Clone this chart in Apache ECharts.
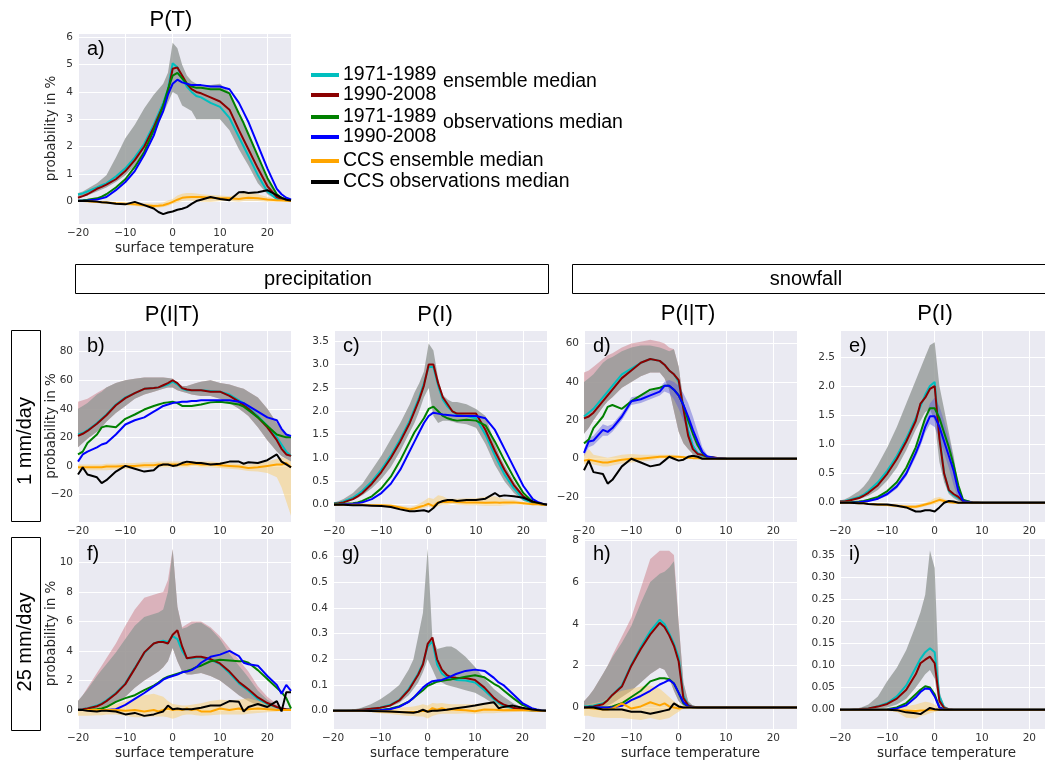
<!DOCTYPE html>
<html><head><meta charset="utf-8">
<script src="https://cdn.jsdelivr.net/npm/echarts@6/dist/echarts.min.js"></script>
<style>html,body{margin:0;padding:0;background:#fff}#c{width:1045px;height:763px}</style>
</head><body><div id="c"></div>
<script>
// shared temperature grid (surface temperature, °C)
const T = [-20,-19,-18,-16,-15,-14,-12,-10,-8,-6,-4,-3,-2,-1,0,1,2,3,4,5,6,8,10,12,14,15,16,18,20,22,23,24,25];
const X_TICK_STEP = 10;

// a) P(T)
const aCyan = [0.24,0.28,0.35,0.5,0.58,0.65,0.9,1.2,1.6,2.1,2.8,3.2,3.6,4.1,5.05,4.9,4.5,4.2,4.0,3.85,3.8,3.6,3.45,3.05,2.35,2.0,1.65,0.95,0.35,0.08,0.05,0.03,0.01];
const aRed = [0.12,0.18,0.25,0.45,0.52,0.6,0.8,1.1,1.5,2.0,2.7,3.1,3.5,4.0,4.85,4.9,4.6,4.3,4.1,4.0,3.95,3.8,3.65,3.35,2.6,2.25,1.9,1.2,0.55,0.15,0.08,0.04,0.02];
const aGreen = [0.02,0.03,0.05,0.1,0.16,0.25,0.5,0.8,1.25,1.8,2.6,3.0,3.5,4.1,4.6,4.7,4.5,4.3,4.2,4.15,4.15,4.1,4.1,3.95,3.2,2.85,2.45,1.65,0.85,0.25,0.12,0.06,0.03];
const aBlue = [0.01,0.01,0.02,0.06,0.1,0.15,0.4,0.7,1.1,1.7,2.4,2.9,3.3,3.9,4.3,4.45,4.35,4.3,4.25,4.25,4.25,4.2,4.2,4.1,3.6,3.25,2.9,2.05,1.2,0.45,0.25,0.12,0.06];
const aOrange = [0,0,-0.01,-0.03,-0.04,-0.05,-0.08,-0.1,-0.12,-0.15,-0.18,-0.17,-0.15,-0.1,-0.03,0.05,0.12,0.14,0.15,0.15,0.15,0.12,0.1,0.1,0.08,0.1,0.12,0.1,0.06,0.03,0.02,0.01,0];
const aBlack = [0,0,0,-0.02,-0.04,-0.05,-0.1,-0.12,-0.03,-0.15,-0.27,-0.4,-0.48,-0.42,-0.38,-0.32,-0.28,-0.22,-0.1,0.0,0.05,0.15,0.08,0.03,0.32,0.33,0.3,0.32,0.4,0.22,0.12,0.05,0.02];
const aLo = [0.1,0.15,0.2,0.35,0.42,0.5,0.7,0.95,1.3,1.8,2.4,2.8,3.2,3.6,4.0,3.9,3.5,3.4,3.3,3.0,3.0,3.0,3.0,2.6,1.9,1.6,1.3,0.65,0.25,0.05,0.02,0.01,0];
const aHi = [0.3,0.35,0.45,0.65,0.8,0.95,1.6,2.3,2.8,3.4,3.9,4.1,4.3,4.7,5.8,5.6,5.0,4.6,4.4,4.3,4.25,4.25,4.3,4.0,3.1,2.8,2.4,1.6,0.8,0.25,0.15,0.08,0.05];
const aCcsLo = [0,-0.01,-0.02,-0.05,-0.07,-0.08,-0.12,-0.15,-0.18,-0.22,-0.25,-0.24,-0.22,-0.18,-0.1,-0.05,0,0.02,0.02,0,-0.02,-0.03,0,0,-0.02,0,0,0,-0.02,-0.02,-0.01,0,0];
const aCcsHi = [0,0.01,0,0,-0.01,-0.02,-0.03,-0.05,-0.06,-0.08,-0.1,-0.08,-0.05,0.02,0.08,0.2,0.27,0.3,0.3,0.28,0.25,0.22,0.2,0.18,0.25,0.3,0.32,0.25,0.15,0.08,0.05,0.02,0];

// b) precipitation P(I|T), 1 mm/day
const bCyan = [22,23,25,30,33,36,43,48,51,54,54.5,55,56,57,59,57,54,53,53,53,53,52.5,52,50,46,44,41,35,28,20,15,10,7];
const bRed = [21,22.5,24.5,29.5,32.5,35.5,42.5,47.5,51,54,54.5,55,56.5,58,60,58,54.5,53.5,53,53,53,52,52,49,45,42.5,40,34,27,18,12,8,7];
const bGreen = [8,10,16,22,27,28,27,33,36,39.5,42,43,44,44.5,45,44,42,42,42,42.5,43,44.5,45,44,43,41.5,39,34,28,22,21,20,20];
const bBlue = [3,8,10,13,15,16,22,29,32,34,38,40,42,43,44,44.5,45,45,45.5,45.5,46,46,46,46,45,44,42,38,34,32,26,22,21];
const bOrange = [-1,-1,-1,-1,-1,-0.5,-0.5,0,0,0.5,0.5,1,1,1,1,1,1,1,1.5,1.5,1,1,0.5,0,-0.5,-1,-1.5,-1,0,1,1,2,-1];
const bBlack = [-6,-1,-6,-8,-12,-10,-4,0,-2,-4,-3,0,1,1,0,0.5,2,3,2.5,2,2,1,1.5,3,3,1.5,2.5,2,4,8,3,1,-1];
const bLo = [13,16,19,24,27,31,37,42,47,50,52,53,54,55,55,53,52,51,50,49.5,49,49,47,44,40,37.5,35,27,18,10,7,5,3];
const bHi = [40,42,44,50,52,55,58,60,61,62,62,62,62,61.5,61,58,56,56,57,58,59,60,58,57,55,54,52,48,40,30,26,22,20];
const bPinkHi = [45,46,47,51,53,55,58,60,61,62,62,62,62,61.5,61,58,56,56,57,58,59,60,58,57,55,54,52,48,40,30,26,22,20];
const bCcsLo = [-3,-3,-3,-3,-3,-3,-2.5,-2,-2,-1.5,-1.5,-1,-1,-1,-1,-1,-1,-1,-0.5,-0.5,-1,-1,-1.5,-2,-2.5,-3,-3.5,-4,-5,-8,-15,-25,-35];
const bCcsHi = [1,1,1,1,1,1.5,1.5,2,2,2.5,2.5,3,3,3,3,3,3,3,3.5,3.5,3,3,2.5,2,1.5,1,1,1.5,3,5,6,5,3];

// c) precipitation P(I), 1 mm/day
const cCyan = [0.03,0.04,0.07,0.15,0.22,0.3,0.5,0.75,1.05,1.4,1.8,2.05,2.3,2.6,2.95,2.95,2.55,2.25,2.1,2.0,1.92,1.9,1.85,1.5,1.05,0.85,0.65,0.35,0.12,0.04,0.02,0.01,0];
const cRed = [0.02,0.03,0.05,0.12,0.18,0.25,0.45,0.7,1.0,1.35,1.75,2.0,2.25,2.55,3.0,3.0,2.6,2.3,2.15,2.0,1.95,1.95,1.95,1.6,1.15,0.95,0.75,0.42,0.18,0.05,0.02,0.01,0];
const cGreen = [0.01,0.01,0.02,0.03,0.05,0.08,0.18,0.35,0.6,0.95,1.35,1.55,1.7,1.85,2.05,2.1,2.0,1.9,1.85,1.82,1.8,1.82,1.8,1.7,1.35,1.15,0.95,0.58,0.25,0.06,0.03,0.01,0];
const cBlue = [0,0,0.01,0.02,0.03,0.05,0.12,0.25,0.45,0.75,1.15,1.35,1.55,1.75,1.9,1.97,1.95,1.93,1.92,1.91,1.9,1.9,1.9,1.85,1.6,1.4,1.2,0.8,0.4,0.12,0.06,0.02,0];
const cOrange = [0,0,0,0,0,0,-0.01,-0.01,-0.02,-0.06,-0.1,-0.08,-0.05,-0.02,0.02,-0.03,0.05,0.06,0.06,0.07,0.06,0.05,0.05,0.04,0.05,0.04,0.05,0.05,0.03,0.01,0.01,0,0];
const cBlack = [0,0,0,-0.01,-0.01,-0.01,-0.02,-0.03,-0.05,-0.1,-0.14,-0.14,-0.13,-0.12,-0.15,-0.07,0.04,0.08,0.1,0.1,0.08,0.1,0.1,0.13,0.25,0.18,0.2,0.18,0.15,0.07,0.04,0.02,0];
const cLo = [0.02,0.03,0.05,0.1,0.15,0.2,0.35,0.55,0.8,1.15,1.55,1.75,2.0,2.3,2.5,1.9,1.75,1.8,1.8,1.78,1.75,1.72,1.65,1.3,0.85,0.68,0.5,0.25,0.08,0.02,0.01,0,0];
const cHi = [0.05,0.08,0.12,0.25,0.35,0.45,0.75,1.05,1.4,1.75,2.15,2.4,2.6,2.85,3.45,3.3,2.7,2.35,2.25,2.2,2.2,2.15,2.05,1.9,1.3,1.05,0.85,0.5,0.2,0.06,0.03,0.01,0];
const cCcsLo = [0,0,0,-0.01,-0.01,-0.01,-0.02,-0.03,-0.05,-0.1,-0.14,-0.12,-0.1,-0.07,-0.04,-0.08,-0.03,0,0,0.02,0,-0.01,-0.01,-0.02,-0.02,-0.02,-0.01,0,0,-0.01,0,0,0];
const cCcsHi = [0,0,0.01,0.01,0.01,0.01,0,0.01,0.01,-0.02,-0.05,-0.02,0.02,0.08,0.15,0.12,0.2,0.18,0.13,0.13,0.13,0.14,0.14,0.17,0.18,0.15,0.12,0.1,0.06,0.03,0.02,0.01,0];

// d) snowfall P(I|T), 1 mm/day
const dCyan = [22,24,26,32,35,38,44,47,50,52,51,49,46,44,40,27,15,7,3,1.5,0.8,0.3,0.1,0,0,0,0,0,0,0,0,0,0];
const dRed = [21,22,24,30,33,36,42,46,50,52,51,49,46,44,41,26,12,5,2.5,2,1,0.5,0.1,0,0,0,0,0,0,0,0,0,0];
const dGreen = [8,10,16,22,27,28,26,30,33,36,37,38,38,36,33,28,20,13,7,3,1,0.3,0,0,0,0,0,0,0,0,0,0,0];
const dBlue = [3,9,9.5,15,14,16,22,30,31,33,35,38,38,36,33,28,22,15,9,3.5,1.2,0.2,0,0,0,0,0,0,0,0,0,0,0];
const dOrange = [-1,-0.5,-1,-2,-2,-1.5,-0.5,0,0,0.5,1,1,1.2,1,1,0.8,0.5,0.3,0.2,0.1,0,0,0,0,0,0,0,0,0,0,0,0,0];
const dBlack = [-6,-1,-7,-8,-13,-11,-4,0,-2,-4,-3,-1,1,0,-1,-0.5,1,1.5,1,0,0,0,0,0,0,0,0,0,0,0,0,0,0];
const dLo = [13,16,20,27,30,32,37,40,43,45,45,42,36,25,14,8,5,2.5,1,0.5,0.2,0,0,0,0,0,0,0,0,0,0,0,0];
const dHi = [40,42,44,50,52,53,56,58,59,59,58,57,56,57,48,30,15,7,3.5,2,1,0.5,0.2,0,0,0,0,0,0,0,0,0,0];
const dPinkHi = [45,46,48,52,54,55,58,60,61,62,61,60,58,57,48,30,15,7,3.5,2,1,0.5,0.2,0,0,0,0,0,0,0,0,0,0];
const dBlueLo = [1,6,7,12,12,14,20,28,29,31,33,35,34,31,26,20,14,8,4,1,0.3,0,0,0,0,0,0,0,0,0,0,0,0];
const dBlueHi = [5,11,12,18,17,18,24,32,33,35,37,40,41,40,38,34,29,22,14,6,2,0.5,0,0,0,0,0,0,0,0,0,0,0];
const dCcsLo = [-3,-2,-3,-4,-4,-3.5,-2.5,-2,-1.5,-1,0,0,0,0,0,0,0,0,0,0,0,0,0,0,0,0,0,0,0,0,0,0,0];
const dCcsHi = [2,5,2,1,0.5,1,2,2.5,2,2,2,2,2,2,1.5,1.5,1,0.5,0.3,0.2,0,0,0,0,0,0,0,0,0,0,0,0,0];

// e) snowfall P(I), 1 mm/day
const eCyan = [0.02,0.03,0.05,0.1,0.14,0.2,0.35,0.55,0.8,1.1,1.45,1.65,1.85,2.0,2.07,1.15,0.5,0.2,0.13,0.08,0.03,0.01,0,0,0,0,0,0,0,0,0,0,0];
const eRed = [0.02,0.02,0.04,0.08,0.12,0.17,0.3,0.5,0.75,1.05,1.4,1.7,1.8,1.95,2.0,1.1,0.5,0.22,0.15,0.1,0.03,0.01,0,0,0,0,0,0,0,0,0,0,0];
const eGreen = [0,0,0.01,0.02,0.03,0.05,0.1,0.2,0.35,0.6,0.95,1.2,1.45,1.62,1.62,1.45,1.2,0.95,0.65,0.3,0.05,0,0,0,0,0,0,0,0,0,0,0,0];
const eBlue = [0,0,0,0.01,0.02,0.03,0.07,0.15,0.28,0.5,0.85,1.05,1.3,1.48,1.48,1.3,1.05,0.8,0.55,0.2,0.03,0,0,0,0,0,0,0,0,0,0,0,0];
const eOrange = [0,0,0,-0.01,-0.01,-0.02,-0.03,-0.04,-0.05,-0.07,-0.07,-0.05,-0.03,-0.01,0.02,0.05,0.03,0.01,0,0,0,0,0,0,0,0,0,0,0,0,0,0,0];
const eBlack = [0,0,0,-0.01,-0.01,-0.02,-0.03,-0.03,-0.05,-0.08,-0.15,-0.15,-0.13,-0.13,-0.15,-0.08,0,0.03,0.02,0,0,0,0,0,0,0,0,0,0,0,0,0,0];
const eLo = [0.01,0.01,0.03,0.06,0.09,0.12,0.22,0.38,0.6,0.9,1.25,1.4,1.55,1.6,1.4,0.7,0.35,0.15,0.08,0.03,0.01,0,0,0,0,0,0,0,0,0,0,0,0];
const eHi = [0.04,0.06,0.1,0.2,0.28,0.38,0.65,0.95,1.3,1.7,2.1,2.3,2.5,2.7,2.75,2.0,1.6,1.2,0.8,0.3,0.05,0.01,0,0,0,0,0,0,0,0,0,0,0];
const eBlueLo = [0,0,0,0,0.01,0.02,0.05,0.12,0.24,0.45,0.78,0.97,1.2,1.35,1.3,1.1,0.85,0.6,0.3,0.05,0,0,0,0,0,0,0,0,0,0,0,0,0];
const eBlueHi = [0,0,0,0.02,0.03,0.04,0.09,0.18,0.32,0.56,0.93,1.15,1.45,1.7,1.8,1.65,1.4,1.1,0.75,0.3,0.05,0,0,0,0,0,0,0,0,0,0,0,0];
const eCcsLo = [0,0,0,-0.02,-0.02,-0.03,-0.05,-0.06,-0.08,-0.1,-0.1,-0.08,-0.06,-0.04,-0.02,0,0,0,0,0,0,0,0,0,0,0,0,0,0,0,0,0,0];
const eCcsHi = [0,0,0,0,0,-0.01,-0.01,-0.02,-0.03,-0.04,-0.04,-0.02,0,0.03,0.08,0.1,0.07,0.03,0.01,0,0,0,0,0,0,0,0,0,0,0,0,0,0];

// f) precipitation P(I|T), 25 mm/day
const fCyan = [0.05,0.07,0.12,0.3,0.45,0.65,1.15,1.8,2.85,3.85,4.5,4.6,4.7,4.6,5.0,4.8,4.0,3.5,3.5,3.55,3.55,3.4,3.1,2.5,1.8,1.55,1.3,0.75,0.4,0.18,0.08,0.04,0.02];
const fRed = [0.03,0.05,0.1,0.25,0.4,0.6,1.1,1.75,2.8,3.9,4.5,4.6,4.6,4.5,5.1,5.4,4.3,3.5,3.55,3.6,3.6,3.45,3.15,2.6,1.9,1.65,1.4,0.85,0.47,0.2,0.1,0.05,0.02];
const fGreen = [0,0,0,0.05,0.1,0.2,0.55,0.8,1.0,1.35,1.65,1.85,2.1,2.25,2.35,2.45,2.55,2.65,2.75,2.9,3.0,3.3,3.4,3.35,3.3,3.3,3.2,2.7,2.1,1.5,1.2,0.8,0.1];
const fBlue = [0,0,0,0,0,0,0.05,0.35,0.75,1.15,1.6,1.8,2.05,2.2,2.3,2.4,2.55,2.6,2.7,2.9,3.2,3.6,3.75,4.0,3.65,3.2,3.1,3.0,2.3,1.7,1.1,1.7,1.3];
const fOrange = [0,0,0,0,0,0,0,-0.05,0,-0.1,0,-0.1,0,0.1,0,0.05,0,0.1,0,0.05,-0.1,-0.1,0.1,0,0.1,0,0.05,0.1,0.05,0,0,0,0];
const fBlack = [0,0,-0.05,-0.1,-0.05,-0.05,-0.1,-0.3,-0.2,-0.4,-0.3,-0.2,-0.1,0.3,0.05,0.1,0.05,0.05,0.05,0.1,0.15,0.3,0.3,0.6,0.55,-0.1,0.2,0.4,0.2,0.6,-0.1,1.2,1.2];
const fLo = [0,0,0.02,0.05,0.1,0.2,0.5,0.9,1.5,2.0,2.4,2.6,2.9,3.3,4.2,3.3,2.6,2.4,2.4,2.45,2.5,2.3,2.0,1.5,1.0,0.8,0.6,0.3,0.1,0.03,0.01,0,0];
const fHi = [0.6,1.0,1.4,2.3,2.7,3.1,3.9,4.8,5.7,6.3,6.5,6.6,6.8,8.0,10.9,7.0,5.5,5.6,5.8,5.9,5.9,5.5,4.8,3.8,3.0,2.6,2.2,1.3,0.7,0.3,0.2,0.1,0.05];
const fPinkHi = [0.6,1.0,1.5,2.5,3.0,3.5,4.5,5.7,6.8,7.6,7.8,7.9,8.0,8.8,10.9,7.0,5.6,5.8,6.0,6.0,6.0,5.6,5.0,4.2,3.4,3.0,2.6,1.6,0.9,0.4,0.2,0.1,0.05];
const fCcsLo = [-0.4,-0.4,-0.4,-0.35,-0.35,-0.3,-0.3,-0.4,-0.5,-0.5,-0.45,-0.45,-0.45,-0.5,-0.6,-0.5,-0.35,-0.3,-0.3,-0.35,-0.4,-0.35,-0.3,-0.3,-0.3,-0.3,-0.25,-0.2,-0.15,-0.1,-0.05,-0.05,0];
const fCcsHi = [0.05,0.1,0.1,0.15,0.2,0.25,0.4,0.6,0.8,1.0,1.1,1.0,0.9,0.6,0.4,0.35,0.3,0.3,0.35,0.4,0.45,0.6,0.7,0.65,0.7,0.75,0.8,0.6,0.4,0.2,0.15,0.1,0.05];

// g) precipitation P(I), 25 mm/day
const gCyan = [0,0,0,0.001,0.002,0.004,0.008,0.013,0.022,0.042,0.085,0.115,0.145,0.185,0.25,0.27,0.18,0.145,0.13,0.125,0.12,0.118,0.11,0.08,0.045,0.03,0.02,0.01,0.004,0.001,0,0,0];
const gRed = [0,0,0,0.001,0.002,0.004,0.008,0.012,0.02,0.04,0.08,0.11,0.14,0.18,0.26,0.285,0.2,0.16,0.14,0.13,0.128,0.127,0.12,0.09,0.05,0.035,0.025,0.012,0.005,0.002,0.001,0,0];
const gGreen = [0,0,0,0,0,0,0.001,0.003,0.008,0.018,0.035,0.05,0.065,0.08,0.097,0.105,0.113,0.117,0.12,0.122,0.125,0.132,0.138,0.13,0.105,0.095,0.08,0.05,0.023,0.008,0.004,0.002,0];
const gBlue = [0,0,0,0,0,0,0,0.002,0.006,0.015,0.035,0.05,0.07,0.09,0.105,0.115,0.118,0.12,0.127,0.135,0.143,0.155,0.16,0.155,0.128,0.11,0.1,0.065,0.03,0.01,0.005,0.002,0];
const gOrange = [0,0,0,0,0,0,-0.001,-0.002,-0.003,-0.005,-0.006,-0.005,-0.004,0,-0.003,0.01,0.004,0.01,0.004,0.006,0.004,0.002,-0.002,0.005,0.004,0.003,0.002,0.003,0.002,0.001,0,0,0];
const gBlack = [0,0,0,0,0,0,-0.001,-0.002,-0.003,-0.005,-0.007,-0.008,-0.004,0.004,-0.004,0,0,0.002,0.004,0.007,0.01,0.015,0.02,0.027,0.033,0.01,0.015,0.02,0.012,0.005,0.003,0.001,0];
const gLo = [0,0,0,0,0.001,0.002,0.005,0.01,0.015,0.03,0.06,0.085,0.11,0.15,0.2,0.16,0.12,0.11,0.1,0.095,0.09,0.08,0.07,0.05,0.025,0.018,0.012,0.005,0.002,0,0,0,0];
const gHi = [0,0.001,0.002,0.005,0.008,0.012,0.025,0.045,0.07,0.1,0.16,0.2,0.29,0.38,0.63,0.28,0.24,0.245,0.25,0.25,0.24,0.21,0.17,0.125,0.085,0.07,0.055,0.03,0.012,0.003,0.002,0.001,0];
const gCcsLo = [0,0,0,-0.002,-0.003,-0.004,-0.006,-0.01,-0.013,-0.017,-0.02,-0.02,-0.022,-0.022,-0.03,-0.02,-0.015,-0.012,-0.012,-0.012,-0.012,-0.01,-0.012,-0.01,-0.01,-0.008,-0.007,-0.005,-0.003,-0.002,-0.001,0,0];
const gCcsHi = [0,0,0,0.002,0.003,0.004,0.006,0.008,0.01,0.012,0.015,0.017,0.02,0.025,0.02,0.03,0.028,0.03,0.027,0.025,0.025,0.025,0.025,0.03,0.028,0.025,0.022,0.02,0.012,0.006,0.004,0.002,0];

// h) snowfall P(I|T), 25 mm/day
const hCyan = [0.05,0.07,0.1,0.2,0.35,0.6,1.05,2.05,2.9,3.65,4.2,4.0,3.55,3.05,2.4,0.55,0.12,0.03,0.01,0,0,0,0,0,0,0,0,0,0,0,0,0,0];
const hRed = [0.02,0.03,0.05,0.15,0.35,0.6,1.0,2.0,2.8,3.5,4.05,3.85,3.45,2.95,2.2,0.45,0.1,0.03,0.01,0,0,0,0,0,0,0,0,0,0,0,0,0,0];
const hGreen = [0,0,0,0,0,0.05,0.2,0.5,0.8,1.25,1.4,1.4,1.35,1.15,0.7,0.2,0.05,0.01,0,0,0,0,0,0,0,0,0,0,0,0,0,0,0];
const hBlue = [0,0,0,0,0,0,0.08,0.35,0.55,0.8,1.1,1.2,1.32,1.15,0.7,0.25,0.05,0.01,0,0,0,0,0,0,0,0,0,0,0,0,0,0,0];
const hOrange = [0,-0.03,-0.05,-0.1,-0.1,-0.05,0.2,-0.05,0.05,0.25,0.1,0.2,0.05,0,-0.05,0,0,0,0,0,0,0,0,0,0,0,0,0,0,0,0,0,0];
const hBlack = [0,0,0,-0.1,-0.1,-0.1,-0.1,-0.2,-0.2,-0.3,-0.2,-0.15,-0.1,0.2,0.05,0,0,0,0,0,0,0,0,0,0,0,0,0,0,0,0,0,0];
const hLo = [0,0,0.02,0.05,0.1,0.2,0.5,0.8,1.2,1.6,1.9,1.8,1.4,0.8,0.3,0.08,0.02,0,0,0,0,0,0,0,0,0,0,0,0,0,0,0,0];
const hHi = [0.3,0.55,0.85,1.6,2.0,2.4,3.1,3.9,5.0,6.0,6.4,6.5,6.7,7.0,4.0,1.2,0.3,0.08,0.02,0,0,0,0,0,0,0,0,0,0,0,0,0,0];
const hPinkHi = [0.3,0.55,0.85,1.6,2.0,2.5,3.4,4.3,5.7,7.1,7.5,7.5,7.5,7.3,4.1,1.2,0.3,0.08,0.02,0,0,0,0,0,0,0,0,0,0,0,0,0,0];
const hCcsLo = [-0.4,-0.4,-0.45,-0.5,-0.5,-0.5,-0.5,-0.55,-0.6,-0.5,-0.6,-0.55,-0.5,-0.35,-0.2,-0.05,0,0,0,0,0,0,0,0,0,0,0,0,0,0,0,0,0];
const hCcsHi = [0.1,0.15,0.2,0.3,0.45,0.6,0.8,0.9,1.0,1.05,0.9,0.7,0.5,0.3,0.15,0.05,0,0,0,0,0,0,0,0,0,0,0,0,0,0,0,0,0];

// i) snowfall P(I), 25 mm/day
const iCyan = [0,0,0,0.001,0.002,0.003,0.008,0.015,0.03,0.055,0.095,0.115,0.13,0.139,0.13,0.03,0.005,0.001,0,0,0,0,0,0,0,0,0,0,0,0,0,0,0];
const iRed = [0,0,0,0.001,0.002,0.003,0.007,0.013,0.025,0.045,0.08,0.105,0.113,0.12,0.105,0.02,0.004,0.001,0,0,0,0,0,0,0,0,0,0,0,0,0,0,0];
const iGreen = [0,0,0,0,0,0,0,0.001,0.005,0.015,0.035,0.045,0.053,0.05,0.035,0.005,0.001,0,0,0,0,0,0,0,0,0,0,0,0,0,0,0,0];
const iBlue = [0,0,0,0,0,0,0,0,0.003,0.01,0.028,0.04,0.048,0.047,0.03,0.005,0,0,0,0,0,0,0,0,0,0,0,0,0,0,0,0,0];
const iOrange = [0,0,0,0,0,0,0,0,-0.001,-0.002,-0.003,-0.002,-0.002,0,0,0,0,0,0,0,0,0,0,0,0,0,0,0,0,0,0,0,0];
const iBlack = [0,0,0,0,0,0,0,0,-0.001,-0.006,-0.008,-0.01,-0.003,0.004,0.001,0,0,0,0,0,0,0,0,0,0,0,0,0,0,0,0,0,0];
const iLo = [0,0,0,0,0,0,0.002,0.005,0.012,0.025,0.05,0.065,0.08,0.09,0.07,0.01,0.003,0,0,0,0,0,0,0,0,0,0,0,0,0,0,0,0];
const iHi = [0,0,0.001,0.004,0.007,0.012,0.03,0.065,0.095,0.135,0.19,0.22,0.26,0.36,0.32,0.04,0.01,0.002,0,0,0,0,0,0,0,0,0,0,0,0,0,0,0];
const iCcsLo = [0,0,0,0,0,0,-0.002,-0.003,-0.005,-0.018,-0.02,-0.015,-0.012,-0.008,-0.005,-0.002,0,0,0,0,0,0,0,0,0,0,0,0,0,0,0,0,0];
const iCcsHi = [0,0,0,0,0,0,0.001,0.002,0.003,0.008,0.012,0.015,0.018,0.016,0.012,0.005,0.002,0,0,0,0,0,0,0,0,0,0,0,0,0,0,0,0];

// legend labels
const LEGEND_LABELS = ['1971-1989','1990-2008','1971-1989','1990-2008','CCS ensemble median','CCS observations median'];
const LEGEND_GROUPS = ['ensemble median','observations median'];

// ---------------- styling & layout ----------------
const LINE_COLORS = ['#00BFBF','#8B0000','#008000','#0000FF','#FFA500','#000000'];
const FILL = {gray:'rgba(150,155,152,0.82)', pink:'rgba(200,110,120,0.45)', ccs:'rgba(250,205,110,0.5)', blue:'rgba(90,90,215,0.45)'};
const TICK = '#333333';
const SANS = '"Liberation Sans", Arial, sans-serif';
const DJ = '"DejaVu Sans", sans-serif';

const panels = [
  {L:'a)', box:[78,33,213,191],  y:[-0.84,6.16,1,0],      xName:true,  yName:true,  lines:[aCyan,aRed,aGreen,aBlue,aOrange,aBlack], env:[aLo,aHi], ccs:[aCcsLo,aCcsHi]},
  {L:'b)', box:[78,330,213,192], y:[-39.3,95.2,20,0],     xName:false, yName:true,  lines:[bCyan,bRed,bGreen,bBlue,bOrange,bBlack], env:[bLo,bHi], pink:bPinkHi, ccs:[bCcsLo,bCcsHi]},
  {L:'c)', box:[334,330,213,192],y:[-0.37,3.74,0.5,1],    xName:false, yName:false, lines:[cCyan,cRed,cGreen,cBlue,cOrange,cBlack], env:[cLo,cHi], ccs:[cCcsLo,cCcsHi]},
  {L:'d)', box:[584,330,213,192],y:[-33,67.1,20,0],       xName:false, yName:false, lines:[dCyan,dRed,dGreen,dBlue,dOrange,dBlack], env:[dLo,dHi], pink:dPinkHi, obs:[dBlueLo,dBlueHi], ccs:[dCcsLo,dCcsHi]},
  {L:'e)', box:[840,330,213,192],y:[-0.33,2.96,0.5,1],    xName:false, yName:false, lines:[eCyan,eRed,eGreen,eBlue,eOrange,eBlack], env:[eLo,eHi], obs:[eBlueLo,eBlueHi], ccs:[eCcsLo,eCcsHi]},
  {L:'f)', box:[78,538,213,191], y:[-1.29,11.65,2,0],     xName:true,  yName:true,  lines:[fCyan,fRed,fGreen,fBlue,fOrange,fBlack], env:[fLo,fHi], pink:fPinkHi, ccs:[fCcsLo,fCcsHi]},
  {L:'g)', box:[333,538,213,191],y:[-0.071,0.672,0.1,1],  xName:true,  yName:false, lines:[gCyan,gRed,gGreen,gBlue,gOrange,gBlack], env:[gLo,gHi], ccs:[gCcsLo,gCcsHi]},
  {L:'h)', box:[584,538,213,191],y:[-1.03,8.11,2,0],      xName:true,  yName:false, lines:[hCyan,hRed,hGreen,hBlue,hOrange,hBlack], env:[hLo,hHi], pink:hPinkHi, ccs:[hCcsLo,hCcsHi]},
  {L:'i)', box:[840,538,213,191],y:[-0.0436,0.388,0.05,2],xName:true,  yName:false, lines:[iCyan,iRed,iGreen,iBlue,iOrange,iBlack], env:[iLo,iHi], ccs:[iCcsLo,iCcsHi]}
];

function fmt(v, dec){ if (Math.abs(v) < 1e-9) v = 0; return v.toFixed(dec).replace('-', '\u2212'); }

function band(idx, lo, hi, color, z){
  return {
    type:'custom', xAxisIndex:idx, yAxisIndex:idx, z:z, silent:true, clip:true, animation:false,
    data:[[T[0], lo[0]]], encode:{x:0, y:1},
    renderItem:function(params, api){
      const pts = [];
      for (let k=0;k<T.length;k++) pts.push(api.coord([T[k], hi[k]]));
      for (let k=T.length-1;k>=0;k--) pts.push(api.coord([T[k], lo[k]]));
      return {type:'polygon', shape:{points:pts}, style:{fill:color, stroke:null}};
    }
  };
}
function line(idx, arr, color, z){
  return {type:'line', xAxisIndex:idx, yAxisIndex:idx, z:z, silent:true, animation:false,
    data:T.map((t,k)=>[t, arr[k]]), showSymbol:false, symbol:'none',
    lineStyle:{width:2, color:color}, itemStyle:{color:color}};
}

const grids=[], xAxes=[], yAxes=[], series=[], graphics=[];
panels.forEach((p,i)=>{
  grids.push({left:p.box[0], top:p.box[1], width:p.box[2], height:p.box[3], show:true,
    backgroundColor:'#EAEAF2', borderWidth:0, containLabel:false, outerBoundsMode:'none'});
  xAxes.push({type:'value', gridIndex:i, min:-20, max:25, interval:X_TICK_STEP,
    axisLine:{show:false}, axisTick:{show:false},
    splitLine:{show:true, lineStyle:{color:'#FFFFFF', width:1}},
    axisLabel:{show:true, color:TICK, fontSize:10.5, fontFamily:DJ, margin:4, showMinLabel:true, showMaxLabel:false, formatter:v=>fmt(v,0)},
    name:p.xName?'surface temperature':'', nameLocation:'middle', nameGap:17, nameMoveOverlap:false,
    nameTextStyle:{color:'#262626', fontSize:13.5, fontFamily:DJ}});
  yAxes.push({type:'value', gridIndex:i, min:p.y[0], max:p.y[1], minInterval:p.y[2], maxInterval:p.y[2], splitNumber:6,
    axisLine:{show:false}, axisTick:{show:false},
    splitLine:{show:true, lineStyle:{color:'#FFFFFF', width:1}},
    axisLabel:{show:true, color:TICK, fontSize:10.5, fontFamily:DJ, margin:5, showMinLabel:false, showMaxLabel:false, formatter:v=>fmt(v,p.y[3])},
    name:p.yName?'probability in %':'', nameLocation:'middle', nameGap:20, nameRotate:90, nameMoveOverlap:false,
    nameTextStyle:{color:'#262626', fontSize:13.5, fontFamily:DJ}});
  if (p.pink) series.push(band(i, p.env[0], p.pink, FILL.pink, 2));
  series.push(band(i, p.env[0], p.env[1], FILL.gray, 3));
  if (p.obs) series.push(band(i, p.obs[0], p.obs[1], FILL.blue, 4));
  series.push(band(i, p.ccs[0], p.ccs[1], FILL.ccs, 4));
  p.lines.forEach((arr,k)=>series.push(line(i, arr, LINE_COLORS[k], 5+k)));
  graphics.push({type:'text', x:p.box[0]+9, y:p.box[1]+6, z:50,
    style:{text:p.L, font:'20px '+SANS, fill:'#000', textAlign:'left', textVerticalAlign:'top', align:'left', verticalAlign:'top'}});
});

function txt(s, x, y, size, opts){
  return Object.assign({type:'text', x:x, y:y, z:60,
    style:{text:s, font:size+'px '+SANS, fill:'#000', textAlign:'center', textVerticalAlign:'middle', align:'center', verticalAlign:'middle'}}, opts||{});
}
// titles
graphics.push(txt('P(T)', 171, 20, 22));
graphics.push(txt('P(I|T)', 172, 315, 22));
graphics.push(txt('P(I)', 435, 315, 22));
graphics.push(txt('P(I|T)', 688, 314, 22));
graphics.push(txt('P(I)', 935, 314, 22));
// header boxes
graphics.push({type:'rect', shape:{x:75.5, y:264.5, width:473, height:29}, style:{fill:'#fff', stroke:'#000', lineWidth:1}, z:55});
graphics.push(txt('precipitation', 318, 279, 20));
graphics.push({type:'rect', shape:{x:572.5, y:264.5, width:480, height:29}, style:{fill:'#fff', stroke:'#000', lineWidth:1}, z:55});
graphics.push(txt('snowfall', 806, 279, 20));
// row boxes
graphics.push({type:'rect', shape:{x:11.5, y:330.5, width:29, height:191}, style:{fill:'#fff', stroke:'#000', lineWidth:1}, z:55});
graphics.push(txt('1 mm/day', 25, 441, 20, {rotation:Math.PI/2}));
graphics.push({type:'rect', shape:{x:11.5, y:537.5, width:29, height:193}, style:{fill:'#fff', stroke:'#000', lineWidth:1}, z:55});
graphics.push(txt('25 mm/day', 25, 642, 20, {rotation:Math.PI/2}));
// legend
const LEG_Y = [75, 95, 117, 137, 161, 182];
LEGEND_LABELS.forEach((s,k)=>{
  graphics.push({type:'line', shape:{x1:311, y1:LEG_Y[k], x2:339, y2:LEG_Y[k]}, style:{stroke:LINE_COLORS[k], lineWidth:4}, z:60});
  graphics.push({type:'text', x:343, y:LEG_Y[k], z:60,
    style:{text:s, font:'19.5px '+SANS, fill:'#000', textAlign:'left', textVerticalAlign:'middle', align:'left', verticalAlign:'middle'}});
});
graphics.push({type:'text', x:443, y:82, z:60, style:{text:LEGEND_GROUPS[0], font:'19.5px '+SANS, fill:'#000', textAlign:'left', textVerticalAlign:'middle', align:'left', verticalAlign:'middle'}});
graphics.push({type:'text', x:443, y:123, z:60, style:{text:LEGEND_GROUPS[1], font:'19.5px '+SANS, fill:'#000', textAlign:'left', textVerticalAlign:'middle', align:'left', verticalAlign:'middle'}});

const chart = echarts.init(document.getElementById('c'), null, {renderer:'canvas', width:1045, height:763});
chart.setOption({
  backgroundColor:'#FFFFFF', animation:false,
  grid:grids, xAxis:xAxes, yAxis:yAxes, series:series, graphic:{elements:graphics}
});
</script></body></html>
